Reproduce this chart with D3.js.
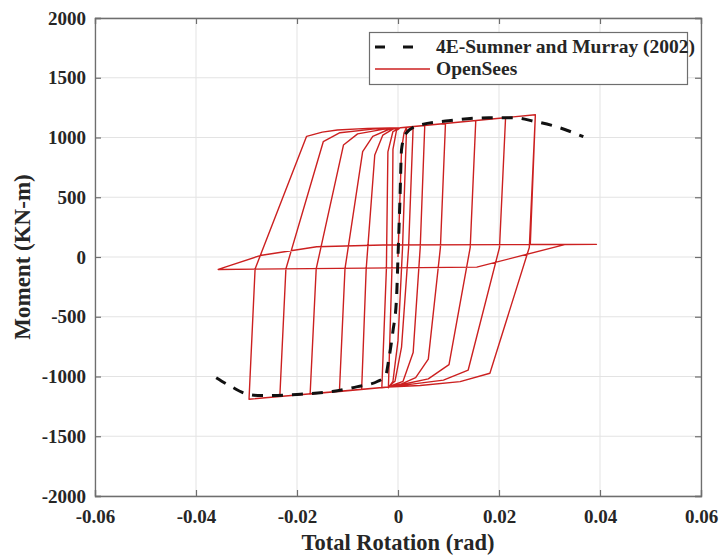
<!DOCTYPE html>
<html>
<head>
<meta charset="utf-8">
<script src="https://cdn.jsdelivr.net/npm/d3@7"></script>
<style>
  html, body { margin: 0; padding: 0; background: #ffffff; }
  svg { display: block; }
  text { font-family: "Liberation Serif", "Times New Roman", serif; font-weight: bold; fill: #262626; }
</style>
</head>
<body>
<svg id="chart" width="721" height="556"></svg>
<script>
// Axis ticks
const xTicks = [-0.06, -0.04, -0.02, 0, 0.02, 0.04, 0.06];
const xTickLabels = ["-0.06", "-0.04", "-0.02", "0", "0.02", "0.04", "0.06"];
const yTicks = [-2000, -1500, -1000, -500, 0, 500, 1000, 1500, 2000];
const yTickLabels = ["-2000", "-1500", "-1000", "-500", "0", "500", "1000", "1500", "2000"];

// Series names
const seriesNames = ["4E-Sumner and Murray (2002)", "OpenSees"];

// Test envelope, 4E-Sumner and Murray (2002): [rotation (rad), moment (kN-m)]
const testRotation = [-0.0360, -0.0330, -0.0300, -0.0270, -0.0200, -0.0130, -0.0080, -0.0040, -0.0025,
  -0.0018, -0.0010, -0.0003, 0.0000, 0.0004, 0.0007, 0.0015, 0.0040, 0.0100, 0.0180, 0.0230,
  0.0270, 0.0310, 0.0367];
const testMoment = [-1010, -1085, -1145, -1160, -1150, -1125, -1085, -1040, -1000,
  -850, -620, -350, 0, 500, 900, 1030, 1100, 1140, 1165, 1165,
  1135, 1095, 1007];

// OpenSees cyclic response, in loading order: [rotation (rad), moment (kN-m)]
const simRotation = [
  0.0000, 0.0007, 0.0012, 0.0017,
  0.0009, 0.0000, -0.0010, -0.0019,
  -0.0012, -0.0010, -0.0003, 0.0005, 0.0030,
  0.0021, 0.0007, -0.0006, -0.0020, -0.0032,
  -0.0023, -0.0020, -0.0010, 0.0005, 0.0053,
  0.0044, 0.0030, 0.0010, -0.0020, -0.0072,
  -0.0063, -0.0046, -0.0030, -0.0010, 0.0005, 0.0094,
  0.0084, 0.0060, 0.0035, 0.0005, -0.0020, -0.0116,
  -0.0105, -0.0070, -0.0050, -0.0020, 0.0005, 0.0154,
  0.0143, 0.0101, 0.0060, 0.0010, -0.0020, -0.0174,
  -0.0162, -0.0108, -0.0080, -0.0030, 0.0005, 0.0213,
  0.0201, 0.0139, 0.0090, 0.0020, -0.0020, -0.0234,
  -0.0222, -0.0148, -0.0115, -0.0050, 0.0005, 0.0272,
  0.0260, 0.0182, 0.0123, 0.0044, -0.0020, -0.0295,
  -0.0283, -0.0181, -0.0150, -0.0120, -0.0060, 0.0005, 0.0272,
  0.0262, 0.0393, 0.0330, 0.0156, -0.0356,
  -0.0273, -0.0161, -0.0030, 0.0393
];
const simMoment = [
  0, 900, 1040, 1085,
  80, -700, -1040, -1094,
  -100, 900, 1060, 1082, 1090,
  80, -755, -1040, -1088, -1095,
  -100, 880, 1050, 1082, 1100,
  80, -800, -1040, -1088, -1108,
  -100, 854, 1020, 1070, 1082, 1117,
  80, -855, -1010, -1065, -1088, -1125,
  -100, 881, 1010, 1065, 1082, 1141,
  80, -900, -1020, -1065, -1088, -1146,
  -100, 937, 1030, 1068, 1082, 1166,
  80, -946, -1030, -1068, -1088, -1168,
  -100, 965, 1040, 1070, 1082, 1190,
  80, -973, -1043, -1075, -1088, -1190,
  -100, 1010, 1045, 1063, 1076, 1082, 1190,
  106, 106, 104, -85, -104,
  12, 86, 100, 106
];

const svg = d3.select("#chart");
const W = 721, H = 556;
const margin = { left: 95, right: 20, top: 18, bottom: 60 };
const x = d3.scaleLinear().domain([-0.06, 0.06]).range([margin.left, W - margin.right]);
const y = d3.scaleLinear().domain([-2000, 2000]).range([H - margin.bottom, margin.top]);

svg.append("rect").attr("width", W).attr("height", H).attr("fill", "#ffffff");

// Grid
const grid = svg.append("g");
grid.selectAll("line.gx").data(xTicks).join("line")
  .attr("x1", d => x(d)).attr("x2", d => x(d))
  .attr("y1", y.range()[1]).attr("y2", y.range()[0])
  .attr("stroke", "#e3e3e3").attr("stroke-width", 1);
grid.selectAll("line.gy").data(yTicks).join("line")
  .attr("x1", x.range()[0]).attr("x2", x.range()[1])
  .attr("y1", d => y(d)).attr("y2", d => y(d))
  .attr("stroke", "#e3e3e3").attr("stroke-width", 1);

// Curves
const line = d3.line().x(d => x(d[0])).y(d => y(d[1]));
const simData = simRotation.map((r, i) => [r, simMoment[i]]);
const testData = testRotation.map((r, i) => [r, testMoment[i]]);

svg.append("path").datum(simData)
  .attr("d", line)
  .attr("fill", "none").attr("stroke", "#cc2020").attr("stroke-width", 1.4)
  .attr("stroke-linejoin", "round");

svg.append("path").datum(testData)
  .attr("d", d3.line().curve(d3.curveMonotoneX).x(d => x(d[0])).y(d => y(d[1])))
  .attr("fill", "none").attr("stroke", "#111111").attr("stroke-width", 3)
  .attr("stroke-dasharray", "11,9");

// Axes (ticks inward on all four sides)
const tickLen = 6;
const axB = d3.axisBottom(x).tickValues(xTicks).tickSize(-tickLen).tickFormat((d, i) => xTickLabels[i]).tickPadding(14);
const axT = d3.axisTop(x).tickValues(xTicks).tickSize(-tickLen).tickFormat("");
const axL = d3.axisLeft(y).tickValues(yTicks).tickSize(-tickLen).tickFormat((d, i) => yTickLabels[i]).tickPadding(9);
const axR = d3.axisRight(y).tickValues(yTicks).tickSize(-tickLen).tickFormat("");

function styleAxis(g) {
  g.select(".domain").attr("stroke", "#6e6e6e").attr("stroke-width", 1.3);
  g.selectAll(".tick line").attr("stroke", "#6e6e6e").attr("stroke-width", 1.2);
  g.selectAll(".tick text").attr("font-size", 19).attr("fill", "#262626")
    .attr("font-family", "'Liberation Serif', 'Times New Roman', serif").attr("font-weight", "bold");
}
svg.append("g").attr("transform", `translate(0,${y(-2000)})`).call(axB).call(styleAxis);
svg.append("g").attr("transform", `translate(0,${y(2000)})`).call(axT).call(styleAxis);
svg.append("g").attr("transform", `translate(${x(-0.06)},0)`).call(axL).call(styleAxis);
svg.append("g").attr("transform", `translate(${x(0.06)},0)`).call(axR).call(styleAxis);

// Axis titles
svg.append("text").attr("x", x(0)).attr("y", 550).attr("text-anchor", "middle")
  .attr("font-size", 22.5).text("Total Rotation (rad)");
svg.append("text").attr("transform", `translate(30,${y(0)}) rotate(-90)`).attr("text-anchor", "middle")
  .attr("font-size", 23).text("Moment (KN-m)");

// Legend
const lg = svg.append("g");
lg.append("rect").attr("x", 369.5).attr("y", 32.5).attr("width", 318).attr("height", 52)
  .attr("fill", "#ffffff").attr("stroke", "#6e6e6e").attr("stroke-width", 1.2);
lg.append("line").attr("x1", 375).attr("x2", 423).attr("y1", 47).attr("y2", 47)
  .attr("stroke", "#111111").attr("stroke-width", 3).attr("stroke-dasharray", "10,18");
lg.append("text").attr("x", 436).attr("y", 53).attr("font-size", 19.5).text(seriesNames[0]);
lg.append("line").attr("x1", 375).attr("x2", 430).attr("y1", 69).attr("y2", 69)
  .attr("stroke", "#cc2020").attr("stroke-width", 1.4);
lg.append("text").attr("x", 436).attr("y", 75).attr("font-size", 19.5).text(seriesNames[1]);
</script>
</body>
</html>
